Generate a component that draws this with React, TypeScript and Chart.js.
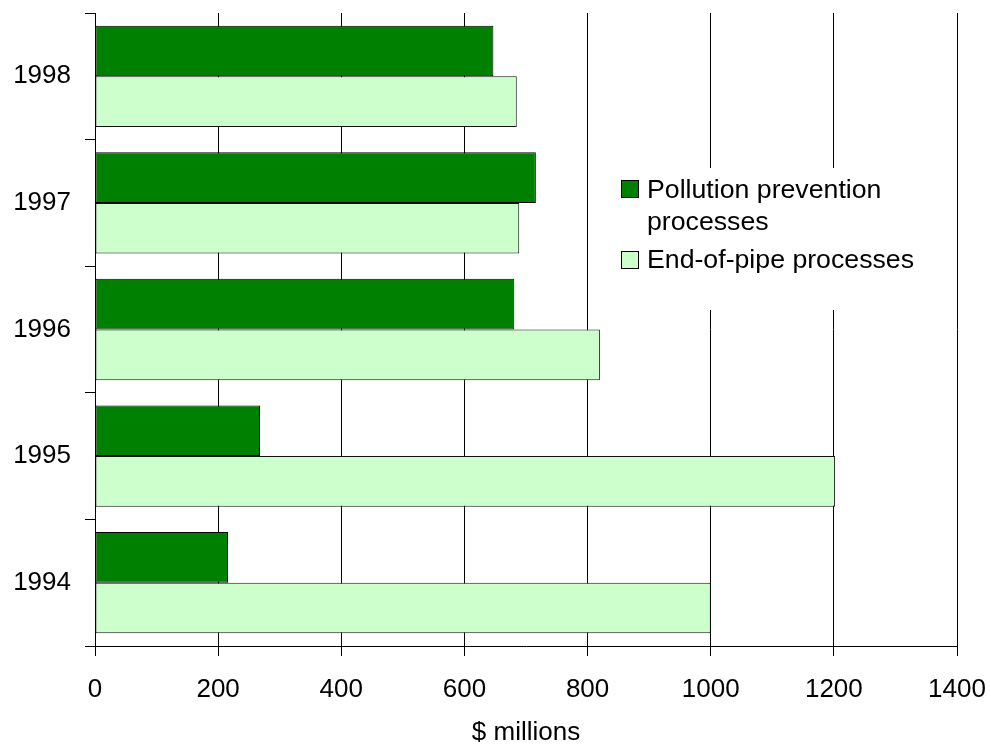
import React, { useEffect, useRef } from "react";
import { Chart, registerables } from "chart.js";

Chart.register(...registerables);

const years = ["1998", "1997", "1996", "1995", "1994"];
const pollutionPrevention = [647, 716, 681, 268, 216];
const endOfPipe = [685, 689, 820, 1202, 1000];
const seriesNames = ["Pollution prevention processes", "End-of-pipe processes"];
const legendLines = [["Pollution prevention", "processes"], ["End-of-pipe processes"]];
const xTicks = [0, 200, 400, 600, 800, 1000, 1200, 1400];

const DARK = "#008000";
const LIGHT = "#CCFFCC";
const FONT = "'Liberation Sans', Arial, sans-serif";

const legendPlugin = {
  id: "boxLegend",
  afterDatasetsDraw(chart: any) {
    const ctx = chart.ctx;
    const bx = 590;
    const by = 168;
    ctx.save();
    ctx.fillStyle = "#ffffff";
    ctx.fillRect(bx, by, 364, 142);
    ctx.font = `26.7px ${FONT}`;
    ctx.textBaseline = "alphabetic";
    ctx.textAlign = "left";
    const colors = [DARK, LIGHT];
    const sw = [
      { y: by + 12, base: [by + 30, by + 62] },
      { y: by + 83, base: [by + 100] },
    ];
    legendLines.forEach((lines, i) => {
      ctx.fillStyle = colors[i];
      ctx.fillRect(bx + 31, sw[i].y, 17, 17);
      ctx.strokeStyle = "#000";
      ctx.lineWidth = 1;
      ctx.strokeRect(bx + 31.5, sw[i].y + 0.5, 17, 17);
      ctx.fillStyle = "#000";
      lines.forEach((t, j) => ctx.fillText(t, bx + 57, sw[i].base[j]));
    });
    ctx.restore();
  },
};

export default function App() {
  const ref = useRef<HTMLCanvasElement>(null);
  useEffect(() => {
    if (!ref.current) return;
    const chart = new Chart(ref.current, {
      type: "bar",
      data: {
        labels: years,
        datasets: [
          {
            label: seriesNames[0],
            data: pollutionPrevention,
            backgroundColor: DARK,
            borderColor: "#000",
            borderWidth: 1,
            borderSkipped: false,
            categoryPercentage: 0.8,
            barPercentage: 1.0,
          },
          {
            label: seriesNames[1],
            data: endOfPipe,
            backgroundColor: LIGHT,
            borderColor: "#111",
            borderWidth: 1,
            borderSkipped: false,
            categoryPercentage: 0.8,
            barPercentage: 1.0,
          },
        ],
      },
      options: {
        indexAxis: "y",
        responsive: false,
        animation: false,
        devicePixelRatio: 1,
        layout: { padding: { top: 13, right: 34, left: 0, bottom: 0 } },
        plugins: {
          legend: { display: false },
          tooltip: { enabled: false },
          title: { display: false },
        },
        scales: {
          x: {
            type: "linear",
            min: 0,
            max: 1400,
            afterBuildTicks: (scale: any) => {
              scale.ticks = xTicks.map((v) => ({ value: v }));
            },
            afterFit: (scale: any) => {
              scale.height = 102;
              scale.paddingLeft = 0;
              scale.paddingRight = 0;
            },
            ticks: {
              color: "#000",
              font: { family: FONT, size: 26 },
              padding: 18,
              maxRotation: 0,
              autoSkip: false,
              callback: (v: any) => String(v),
            },
            grid: {
              color: "#000",
              lineWidth: 1,
              tickLength: 10,
              drawOnChartArea: true,
              drawTicks: true,
            },
            border: { display: true, color: "#000", width: 1 },
            title: {
              display: true,
              text: "$ millions",
              color: "#000",
              font: { family: FONT, size: 26 },
              padding: { top: 0, bottom: 0 },
            },
          },
          y: {
            type: "category",
            afterFit: (scale: any) => {
              scale.width = 95;
              scale.paddingTop = 0;
              scale.paddingBottom = 0;
            },
            ticks: {
              color: "#000",
              font: { family: FONT, size: 26 },
              padding: 14,
            },
            grid: {
              offset: true,
              drawOnChartArea: false,
              tickLength: 10,
              color: "#000",
            },
            border: { display: true, color: "#000", width: 1 },
          },
        },
      },
      plugins: [legendPlugin],
    });
    return () => chart.destroy();
  }, []);
  return (
    <div style={{ position: "fixed", left: 0, top: 0, width: 991, height: 748, background: "#fff" }}>
      <canvas ref={ref} width={991} height={748} style={{ width: 991, height: 748 }} />
    </div>
  );
}
